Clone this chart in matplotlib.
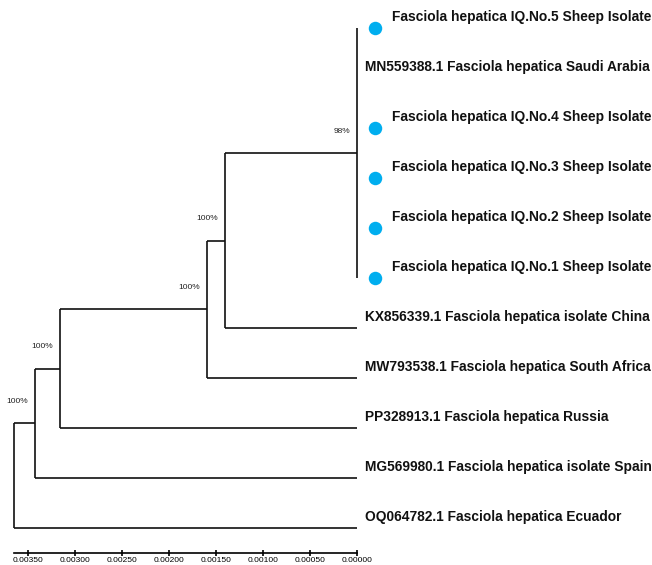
import matplotlib.pyplot as plt
from matplotlib import transforms

# tips, top to bottom
leaf_labels = [
    "Fasciola hepatica IQ.No.5 Sheep Isolate",
    "MN559388.1 Fasciola hepatica Saudi Arabia",
    "Fasciola hepatica IQ.No.4 Sheep Isolate",
    "Fasciola hepatica IQ.No.3 Sheep Isolate",
    "Fasciola hepatica IQ.No.2 Sheep Isolate",
    "Fasciola hepatica IQ.No.1 Sheep Isolate",
    "KX856339.1 Fasciola hepatica isolate China",
    "MW793538.1 Fasciola hepatica South Africa",
    "PP328913.1 Fasciola hepatica Russia",
    "MG569980.1 Fasciola hepatica isolate Spain",
    "OQ064782.1 Fasciola hepatica Ecuador",
]
leaf_marked = [True, False, True, True, True, True, False, False, False, False, False]
leaf_height = [0.0, 0.0, 0.0, 0.0, 0.0, 0.0, 0.0, 0.0, 0.0, 0.0, 0.0]

# internal nodes (height = distance from tips)
node_names = ["n1", "nA", "nB", "nC", "nD", "root"]
node_height = [0.0, 0.001409, 0.001601, 0.00316, 0.003426, 0.003649]
node_children = [[0, 1, 2, 3, 4, 5], ["n1", 6], ["nA", 7], ["nB", 8], ["nC", 9], ["nD", 10]]
node_support = ["98%", "100%", "100%", "100%", "100%", ""]

scale_ticks = [0.0035, 0.003, 0.0025, 0.002, 0.0015, 0.001, 0.0005, 0.0]

fig = plt.figure(figsize=(6.52, 5.65), dpi=100)
ax = fig.add_axes([0, 0, 1, 1])
ax.axis("off")
ax.set_xlim(0.0037976, -0.0031322)
ax.set_ylim(10.74, -0.56)

line_kw = dict(color="#111111", lw=1.2, solid_capstyle="butt")
nodes = {n: i for i, n in enumerate(node_names)}


def draw(node):
    # returns (height, y) of the node
    if isinstance(node, int):
        return leaf_height[node], node
    i = nodes[node]
    h = node_height[i]
    pts = [draw(c) for c in node_children[i]]
    ys = [p[1] for p in pts]
    for ch, cy in pts:
        ax.plot([h, ch], [cy, cy], **line_kw)
    ax.plot([h, h], [min(ys), max(ys)], **line_kw)
    y = (min(ys) + max(ys)) / 2
    if node_support[i]:
        ax.annotate(node_support[i], xy=(h, y), xytext=(-5, 15.8), textcoords="offset points",
                    ha="right", va="center", fontsize=6, color="#222222",
                    family="Liberation Sans")
    return h, y


draw("root")

dot_tr = transforms.offset_copy(ax.transData, fig=fig, x=12.7, y=0, units="points")
for i, lab in enumerate(leaf_labels):
    if leaf_marked[i]:
        ax.plot(leaf_height[i], i, "o", ms=9.7, color="#00aeef", mec="none", transform=dot_tr)
        dx = 24.8
    else:
        dx = 5.2
    ax.annotate(lab, xy=(leaf_height[i], i), xytext=(dx, 5), textcoords="offset points",
                ha="left", va="baseline", fontsize=9.9, fontweight="bold",
                family="Liberation Sans", color="#111111")

# distance scale
sax = fig.add_axes([0, 11.7 / 565, 1, 0.001])
sax.set_xlim(ax.get_xlim())
sax.set_yticks([])
for s in ["top", "left", "right"]:
    sax.spines[s].set_visible(False)
sax.spines["bottom"].set_bounds(node_height[-1], 0.0)
sax.spines["bottom"].set_linewidth(1.2)
sax.set_xticks(scale_ticks)
sax.set_xticklabels(["%.5f" % t for t in scale_ticks], family="Liberation Sans", fontsize=6)
sax.tick_params(axis="x", direction="inout", length=4.5, width=1.2, pad=0.5)
sax.patch.set_visible(False)

fig.savefig("out.png", dpi=100)
